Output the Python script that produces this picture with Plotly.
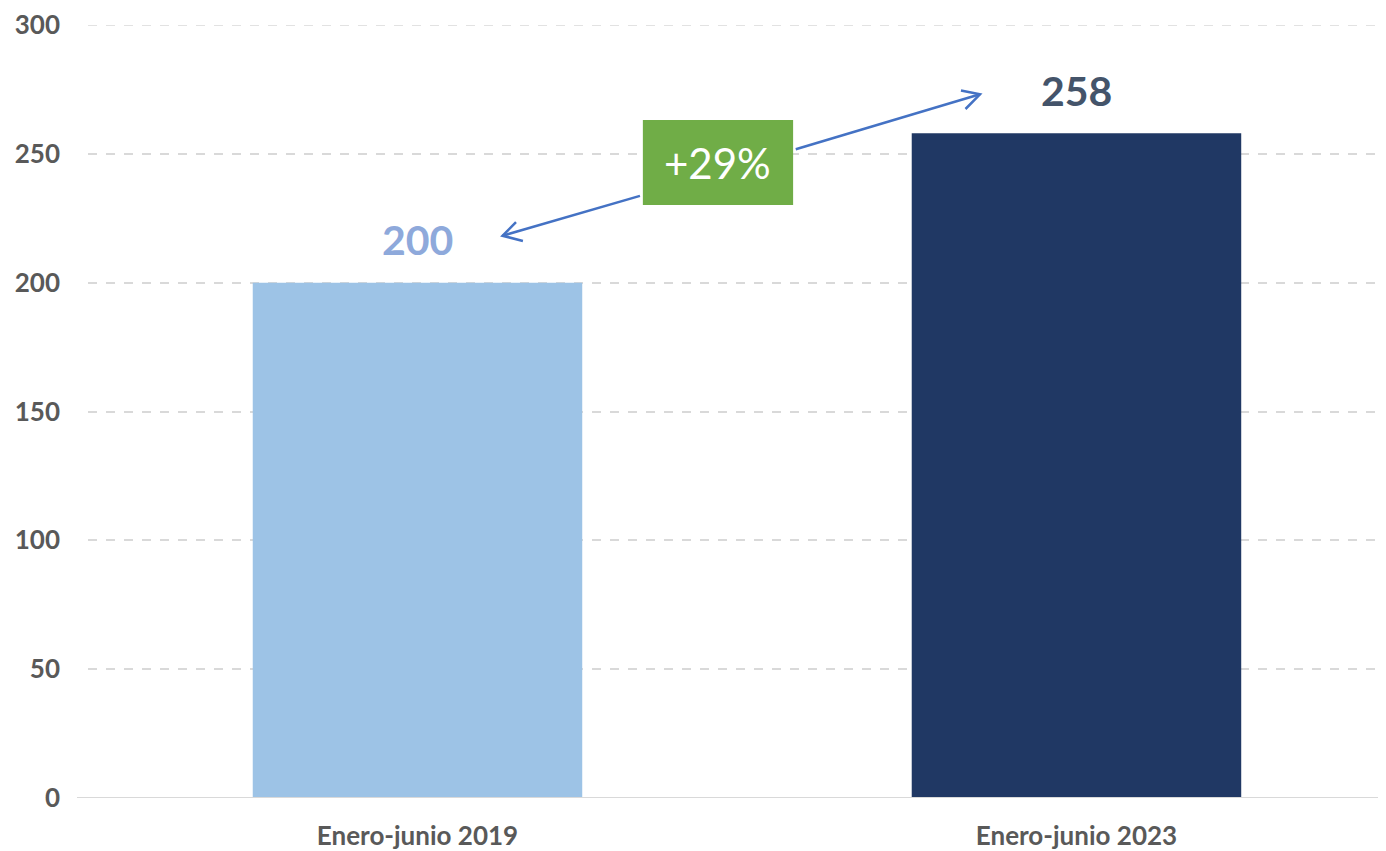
import plotly.graph_objects as go

categories = ["Enero-junio 2019", "Enero-junio 2023"]
values = [200, 258]
bar_colors = ["#9DC3E6", "#203864"]
label_colors = ["#8EA9DB", "#44546A"]
change_label = "+29%"
y_ticks = [0, 50, 100, 150, 200, 250, 300]

FONT = "Lato"

fig = go.Figure()
fig.add_trace(go.Bar(
    x=[0, 1], y=values, width=0.5,
    marker=dict(color=bar_colors, line=dict(width=0)),
    hoverinfo="skip", showlegend=False,
))

# value labels above bars
for i, v in enumerate(values):
    fig.add_annotation(x=i, y=v, yref="y", xref="x", text=f"<b>{v}</b>",
                       showarrow=False, yshift=43, yanchor="middle",
                       font=dict(family=FONT, size=41, color=label_colors[i]))

# green change box
fig.add_shape(type="rect", xref="x", yref="y", x0=0.342, x1=0.570, y0=230.1, y1=263.1,
              fillcolor="#70AD47", line=dict(width=0), layer="above")
fig.add_annotation(x=0.456, y=246.6, xref="x", yref="y", text=change_label, showarrow=False,
                   font=dict(family=FONT, size=42, color="white"))

arrow_col = "#4472C4"
# left arrow
fig.add_shape(type="path", xref="x", yref="y",
              path="M 0.3376 233.7 L 0.129 218.2", line=dict(color=arrow_col, width=2.5))
fig.add_shape(type="path", xref="x", yref="y",
              path="M 0.1495 223.5 L 0.129 218.2 L 0.160 216.2", line=dict(color=arrow_col, width=2.5))
# right arrow
fig.add_shape(type="path", xref="x", yref="y",
              path="M 0.574 251.8 L 0.8536 273.1", line=dict(color=arrow_col, width=2.5))
fig.add_shape(type="path", xref="x", yref="y",
              path="M 0.8247 274.6 L 0.8536 273.1 L 0.8316 267.4", line=dict(color=arrow_col, width=2.5))

# baseline
fig.add_shape(type="line", xref="paper", yref="y", x0=-11/1298, x1=1, y0=0, y1=0,
              line=dict(color="#D9D9D9", width=2))
# top gridline (at range edge)
fig.add_shape(type="line", xref="paper", yref="y", x0=0, x1=1, y0=y_ticks[-1], y1=y_ticks[-1],
              line=dict(color="#D9D9D9", width=1.5, dash="dash"), layer="below")

fig.update_layout(
    width=1386, height=851,
    margin=dict(l=80, r=8, t=17, b=61, autoexpand=False),
    paper_bgcolor="white", plot_bgcolor="white",
    bargap=0.5,
    xaxis=dict(range=[-0.5, 1.4697], tickmode="array", tickvals=[0, 1],
               ticktext=[f"<b>{c}</b>" for c in categories],
               tickfont=dict(family=FONT, size=26, color="#595959"),
               showgrid=False, zeroline=False, showline=False, ticks="",
               ticklabelstandoff=20, automargin=False),
    yaxis=dict(range=[0, 300], tickmode="array", tickvals=y_ticks,
               ticktext=[f"<b>{t}</b>" for t in y_ticks],
               tickfont=dict(family=FONT, size=26, color="#595959"),
               showgrid=True, gridcolor="#D9D9D9", griddash="dash", gridwidth=1.5,
               zeroline=False, showline=False, ticks="", ticklabelstandoff=27,
               automargin=False),
)

fig.write_html("out.html")
